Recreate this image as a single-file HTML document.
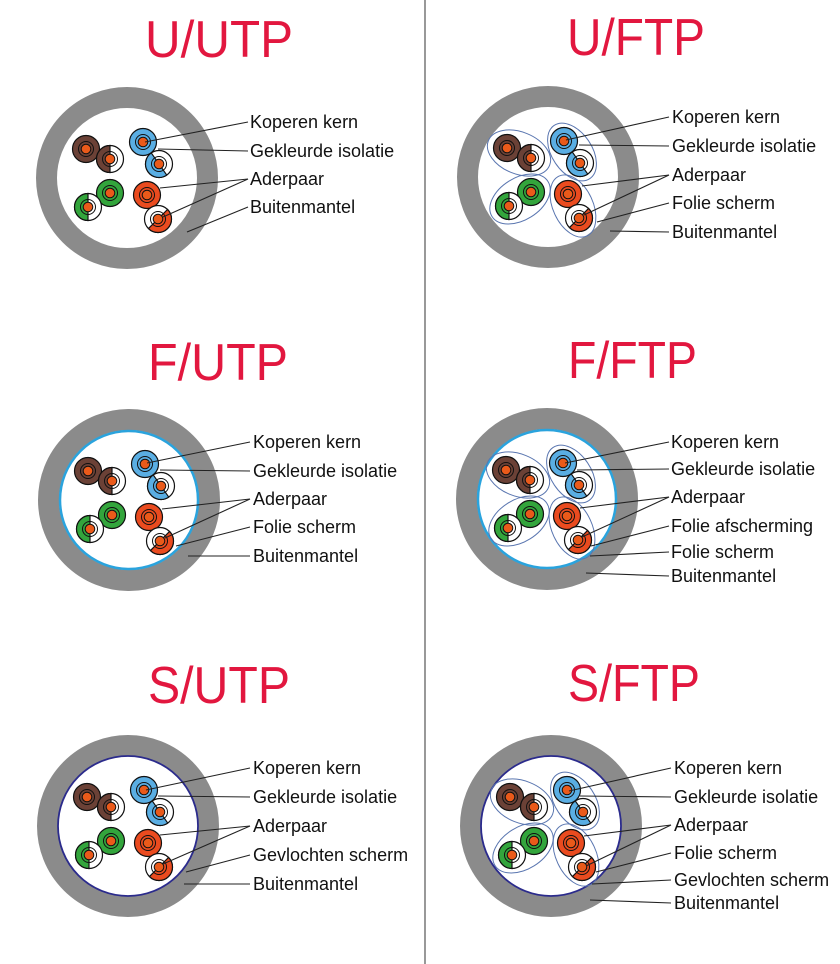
<!DOCTYPE html>
<html><head><meta charset="utf-8"><style>
html,body{margin:0;padding:0;background:#fff;}
svg{display:block;}
.t{font-family:"Liberation Sans",sans-serif;font-size:52px;fill:#e2173f;}
.l{font-family:"Liberation Sans",sans-serif;font-size:18px;fill:#111;dominant-baseline:central;}
.ln{stroke:#222;stroke-width:1.1;fill:none;}
</style></head><body>
<svg width="840" height="964" viewBox="0 0 840 964" xmlns="http://www.w3.org/2000/svg">
<defs>
<g id="core"><circle r="7.5" fill="none" stroke="#111" stroke-width="1"/><circle r="4.8" fill="#ea5a1a" stroke="#111" stroke-width="1"/></g>
<g id="wires" stroke="#111" stroke-width="1.2">
 <g transform="translate(-41,-29)"><circle r="13.5" fill="#6b4136"/><use href="#core"/></g>
 <g transform="translate(-17,-19)"><circle r="13.5" fill="#fff"/><path d="M0,-13.5A13.5,13.5 0 0 0 0,13.5Z" fill="#6b4136"/><use href="#core"/></g>
 <g transform="translate(16,-36)"><circle r="13.5" fill="#5aaee3"/><use href="#core"/></g>
 <g transform="translate(32,-14)"><circle r="13.5" fill="#fff"/><path d="M0,-13.5A13.5,13.5 0 0 0 0,13.5Z" fill="#5aaee3" transform="rotate(-35)"/><use href="#core"/></g>
 <g transform="translate(-17,15)"><circle r="13.5" fill="#33a53c"/><use href="#core"/></g>
 <g transform="translate(-39,29)"><circle r="13.5" fill="#fff"/><path d="M0,-13.5A13.5,13.5 0 0 0 0,13.5Z" fill="#33a53c"/><use href="#core"/></g>
 <g transform="translate(20,17)"><circle r="13.5" fill="#ea4b1f"/><use href="#core"/></g>
 <g transform="translate(31,41)"><circle r="13.5" fill="#fff"/><path d="M0,-13.5A13.5,13.5 0 0 0 0,13.5Z" fill="#ea4b1f" transform="rotate(-135)"/><use href="#core"/></g>
</g>
<g id="foils" fill="none" stroke="#5a76b0" stroke-width="1">
 <ellipse cx="-29" cy="-24" rx="33" ry="21" transform="rotate(22,-29,-24)"/>
 <ellipse cx="24" cy="-25" rx="32" ry="20" transform="rotate(56,24,-25)"/>
 <ellipse cx="-28" cy="22" rx="33" ry="21" transform="rotate(-32,-28,22)"/>
 <ellipse cx="25" cy="29" rx="33" ry="20" transform="rotate(65,25,29)"/>
</g>
<g id="jacket"><circle r="80.5" fill="#fff" stroke="#8b8b8b" stroke-width="21"/></g>
</defs>

<line x1="425" y1="0" x2="425" y2="964" stroke="#555" stroke-width="1.2"/>

<text class="t" x="145" y="57" textLength="148" lengthAdjust="spacingAndGlyphs">U/UTP</text>
<text class="t" x="567" y="55" textLength="138" lengthAdjust="spacingAndGlyphs">U/FTP</text>
<text class="t" x="148" y="380" textLength="140" lengthAdjust="spacingAndGlyphs">F/UTP</text>
<text class="t" x="568" y="378" textLength="129" lengthAdjust="spacingAndGlyphs">F/FTP</text>
<text class="t" x="148" y="703" textLength="142" lengthAdjust="spacingAndGlyphs">S/UTP</text>
<text class="t" x="568" y="701" textLength="132" lengthAdjust="spacingAndGlyphs">S/FTP</text>

<g transform="translate(127,178)"><use href="#jacket"/><use href="#wires"/></g>
<g class="ln">
<line x1="248" y1="122" x2="145" y2="142"/>
<line x1="248" y1="151" x2="158" y2="149"/>
<line x1="248" y1="179" x2="160" y2="188"/>
<line x1="248" y1="179" x2="163" y2="217"/>
<line x1="248" y1="207" x2="187" y2="232"/>
</g>
<text class="l" x="250" y="122">Koperen kern</text>
<text class="l" x="250" y="151">Gekleurde isolatie</text>
<text class="l" x="250" y="179">Aderpaar</text>
<text class="l" x="250" y="207">Buitenmantel</text>

<g transform="translate(548,177)"><use href="#jacket"/><use href="#foils"/><use href="#wires"/></g>
<g class="ln">
<line x1="669" y1="117" x2="566" y2="140"/>
<line x1="669" y1="146" x2="579" y2="145"/>
<line x1="669" y1="175" x2="582" y2="186"/>
<line x1="669" y1="175" x2="584" y2="215"/>
<line x1="669" y1="203" x2="597" y2="222"/>
<line x1="669" y1="232" x2="610" y2="231"/>
</g>
<text class="l" x="672" y="117">Koperen kern</text>
<text class="l" x="672" y="146">Gekleurde isolatie</text>
<text class="l" x="672" y="175">Aderpaar</text>
<text class="l" x="672" y="203">Folie scherm</text>
<text class="l" x="672" y="232">Buitenmantel</text>

<g transform="translate(129,500)"><use href="#jacket"/><circle r="69" fill="none" stroke="#2aa3dd" stroke-width="2.5"/><use href="#wires"/></g>
<g class="ln">
<line x1="250" y1="442" x2="147" y2="463"/>
<line x1="250" y1="471" x2="160" y2="470"/>
<line x1="250" y1="499" x2="162" y2="509"/>
<line x1="250" y1="499" x2="165" y2="538"/>
<line x1="250" y1="527" x2="176" y2="546"/>
<line x1="250" y1="556" x2="188" y2="556"/>
</g>
<text class="l" x="253" y="442">Koperen kern</text>
<text class="l" x="253" y="471">Gekleurde isolatie</text>
<text class="l" x="253" y="499">Aderpaar</text>
<text class="l" x="253" y="527">Folie scherm</text>
<text class="l" x="253" y="556">Buitenmantel</text>

<g transform="translate(547,499)"><use href="#jacket"/><circle r="69" fill="none" stroke="#2aa3dd" stroke-width="2.5"/><use href="#foils"/><use href="#wires"/></g>
<g class="ln">
<line x1="669" y1="442" x2="565" y2="463"/>
<line x1="669" y1="469" x2="577" y2="470"/>
<line x1="669" y1="497" x2="580" y2="508"/>
<line x1="669" y1="497" x2="582" y2="537"/>
<line x1="669" y1="526" x2="591" y2="546"/>
<line x1="669" y1="552" x2="590" y2="556"/>
<line x1="669" y1="576" x2="586" y2="573"/>
</g>
<text class="l" x="671" y="442">Koperen kern</text>
<text class="l" x="671" y="469">Gekleurde isolatie</text>
<text class="l" x="671" y="497">Aderpaar</text>
<text class="l" x="671" y="526">Folie afscherming</text>
<text class="l" x="671" y="552">Folie scherm</text>
<text class="l" x="671" y="576">Buitenmantel</text>

<g transform="translate(128,826)"><use href="#jacket"/><circle r="70" fill="none" stroke="#2b2b8c" stroke-width="1.8"/><use href="#wires"/></g>
<g class="ln">
<line x1="250" y1="768" x2="146" y2="790"/>
<line x1="250" y1="797" x2="158" y2="796"/>
<line x1="250" y1="826" x2="160" y2="835"/>
<line x1="250" y1="826" x2="163" y2="864"/>
<line x1="250" y1="855" x2="186" y2="872"/>
<line x1="250" y1="884" x2="184" y2="884"/>
</g>
<text class="l" x="253" y="768">Koperen kern</text>
<text class="l" x="253" y="797">Gekleurde isolatie</text>
<text class="l" x="253" y="826">Aderpaar</text>
<text class="l" x="253" y="855">Gevlochten scherm</text>
<text class="l" x="253" y="884">Buitenmantel</text>

<g transform="translate(551,826)"><use href="#jacket"/><circle r="70" fill="none" stroke="#2b2b8c" stroke-width="1.8"/><use href="#foils"/><use href="#wires"/></g>
<g class="ln">
<line x1="671" y1="768" x2="569" y2="791"/>
<line x1="671" y1="797" x2="580" y2="796"/>
<line x1="671" y1="825" x2="584" y2="836"/>
<line x1="671" y1="825" x2="586" y2="866"/>
<line x1="671" y1="853" x2="596" y2="872"/>
<line x1="671" y1="880" x2="592" y2="884"/>
<line x1="671" y1="903" x2="590" y2="900"/>
</g>
<text class="l" x="674" y="768">Koperen kern</text>
<text class="l" x="674" y="797">Gekleurde isolatie</text>
<text class="l" x="674" y="825">Aderpaar</text>
<text class="l" x="674" y="853">Folie scherm</text>
<text class="l" x="674" y="880">Gevlochten scherm</text>
<text class="l" x="674" y="903">Buitenmantel</text>
</svg>
</body></html>
